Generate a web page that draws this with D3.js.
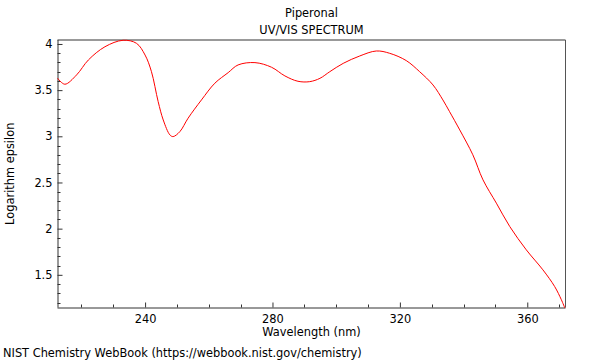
<!DOCTYPE html>
<html><head><meta charset="utf-8">
<script src="https://cdn.jsdelivr.net/npm/d3@7"></script>
<style>body{margin:0;background:#fff}svg{display:block}text{font-family:"DejaVu Sans",sans-serif;font-size:11.4px;fill:#000}</style>
</head><body>
<script>
const title = "Piperonal";
const subtitle = "UV/VIS SPECTRUM";
const xLabel = "Wavelength (nm)";
const yLabel = "Logarithm epsilon";
const footer = "NIST Chemistry WebBook (https://webbook.nist.gov/chemistry)";
const wavelength = [212.5,214.8,218.5,222.2,227.4,233.1,237.3,240.0,242.0,244.1,245.7,247.8,248.8,250.9,253.5,257.7,261.9,266.1,269.2,274.5,279.7,283.9,288.0,291.7,294.9,298.0,302.2,307.4,312.6,316.8,322.0,326.2,330.4,333.5,335.6,338.8,342.9,346.1,350.3,354.5,359.7,364.9,368.6,370.7,371.8];
const logEps = [3.63,3.564,3.665,3.827,3.97,4.04,4.007,3.88,3.70,3.376,3.177,3.015,2.997,3.05,3.196,3.394,3.575,3.69,3.773,3.798,3.748,3.654,3.596,3.592,3.628,3.70,3.79,3.87,3.924,3.899,3.82,3.70,3.556,3.394,3.267,3.069,2.80,2.528,2.276,2.023,1.77,1.554,1.373,1.23,1.14];
const xTicks = [240,280,320,360];
const yTicks = [1.5,2,2.5,3,3.5,4];

const W=600,H=360, L=57.5, R=565.5, T=40, B=307.5;
const svg = d3.select("body").append("svg").attr("width",W).attr("height",H);
const x = d3.scaleLinear().domain([212.5,372]).range([L,R]);
const y = d3.scaleLinear().domain([1.146,4.043]).range([B,T]);

// borders
svg.append("line").attr("x1",L).attr("x2",R).attr("y1",T).attr("y2",T).attr("stroke","#999").attr("stroke-width",2);
svg.append("line").attr("x1",R).attr("x2",R).attr("y1",T).attr("y2",B).attr("stroke","#555").attr("stroke-width",1);

// minor ticks
const xMinor = d3.range(220,372,10).filter(v=>!xTicks.includes(v));
const yMinor = d3.range(12,41).map(v=>v/10).filter(v=>v>1.146 && !yTicks.includes(v));
const gx = svg.append("g").attr("transform",`translate(0,${B})`);
gx.selectAll("line.mn").data(xMinor).join("line").attr("x1",d=>Math.round(x(d))+0.5).attr("x2",d=>Math.round(x(d))+0.5).attr("y1",0).attr("y2",-3).attr("stroke","#333");
const gy = svg.append("g").attr("transform",`translate(${L},0)`);
gy.selectAll("line.mn").data(yMinor).join("line").attr("y1",d=>Math.round(y(d))+0.5).attr("y2",d=>Math.round(y(d))+0.5).attr("x1",0).attr("x2",3).attr("stroke","#333");

// axes
const xAxis = d3.axisBottom(x).tickValues(xTicks).tickSize(-5).tickPadding(7).tickFormat(d3.format("d"));
const yAxis = d3.axisLeft(y).tickValues(yTicks).tickSize(-5).tickPadding(5).tickFormat(d=>String(d));
gx.call(xAxis);
gy.call(yAxis);
[gx,gy].forEach(g=>{g.select(".domain").attr("stroke","#333");g.selectAll(".tick line").attr("stroke","#333");g.selectAll(".tick text").style("font-family","DejaVu Sans").style("font-size","11.4px").attr("fill","#000");});
gx.select(".domain").attr("d",`M${L},0.5H${R}`);
gy.select(".domain").attr("d",`M0.5,${T}V${B}`);

// line
const line = d3.line().x((d,i)=>x(wavelength[i])).y(d=>y(d)).curve(d3.curveCatmullRom);
svg.append("path").datum(logEps).attr("d",line).attr("fill","none").attr("stroke","#ff0000").attr("stroke-width",1);

// texts
const cx=(L+R)/2;
svg.append("text").attr("x",cx).attr("y",17).attr("text-anchor","middle").text(title);
svg.append("text").attr("x",cx).attr("y",34).attr("text-anchor","middle").text(subtitle);
svg.append("text").attr("x",cx).attr("y",336).attr("text-anchor","middle").text(xLabel);
svg.append("text").attr("transform",`translate(14,${(T+B)/2}) rotate(-90)`).attr("text-anchor","middle").text(yLabel);
svg.append("text").attr("x",3).attr("y",357).text(footer);
</script>
</body></html>
